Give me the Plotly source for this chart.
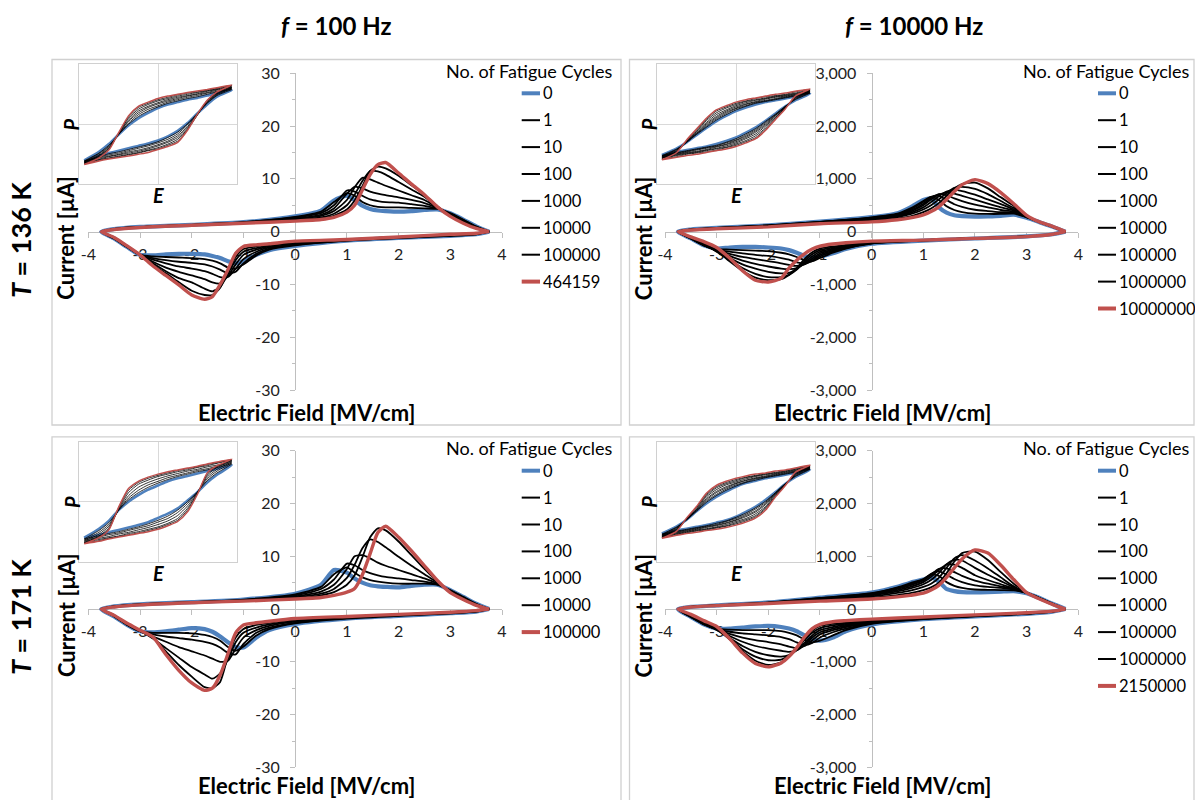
import plotly.graph_objects as go

W, H = 1195, 800
OFF = 0  # body margin is removed by the post script below
FONT = "Lato"
BLUE = "#4f81bd"
RED = "#c0504d"
BLACK = "#000000"
AXC = "#bfbfbf"

# ---------------- shared grids (electric field, MV/cm) ----------------
E_UP = [-3.75, -3.5, -3.0, -2.0, -1.0, 0.0, 0.5, 0.75, 1.0, 1.15, 1.3, 1.45, 1.6, 1.75,
        2.0, 2.25, 2.5, 2.75, 3.0, 3.25, 3.5, 3.75]
E_LO = [-3.75, -3.5, -3.25, -3.0, -2.75, -2.5, -2.25, -2.0, -1.75, -1.6, -1.45, -1.3, -1.15,
        -1.0, -0.75, -0.5, 0.0, 1.0, 2.0, 3.0, 3.5, 3.75]
E_INSET = [-3.75, -3.0, -2.5, -2.0, -1.5, -1.0, -0.5, 0.0, 0.5, 1.0, 1.5, 2.0, 2.5, 3.0, 3.75]

X_TICKS = [-4, -3, -2, -1, 0, 1, 2, 3, 4]
X_TICKTEXT = ["-4", "-3", "-2", "-1", "0", "1", "2", "3", "4"]
Y_TICKS_100 = [-30, -20, -10, 0, 10, 20, 30]
Y_TICKTEXT_100 = ["-30", "-20", "-10", "0", "10", "20", "30"]
Y_TICKS_10K = [-3000, -2000, -1000, 0, 1000, 2000, 3000]
Y_TICKTEXT_10K = ["-3,000", "-2,000", "-1,000", "0", "1,000", "2,000", "3,000"]

# ---------------- Panel A: T = 136 K, f = 100 Hz (current in uA) ----------------
A_CYCLES = ["0", "1", "10", "100", "1000", "10000", "100000", "464159"]
A_UP = [
    [0, 0.5, 0.9, 1.3, 1.8, 2.9, 4.0, 5.9, 6.8, 6.0, 4.9, 4.3, 4.0, 3.9, 3.8, 3.9, 4.1, 4.2, 3.5, 2.3, 1.0, 0],
    [0, 0.5, 0.9, 1.3, 1.8, 2.8, 3.8, 5.6, 7.3, 6.8, 5.6, 5.0, 4.7, 4.6, 4.6, 4.5, 4.4, 4.3, 3.5, 2.3, 1.0, 0],
    [0, 0.5, 0.9, 1.3, 1.8, 2.7, 3.5, 5.0, 7.8, 7.6, 6.8, 6.1, 5.8, 5.6, 5.5, 5.2, 4.9, 4.4, 3.4, 2.2, 0.9, 0],
    [0, 0.5, 0.9, 1.3, 1.7, 2.5, 3.2, 4.4, 7.2, 8.5, 8.2, 7.6, 7.2, 6.9, 6.5, 6.0, 5.4, 4.5, 3.3, 2.1, 0.9, 0],
    [0, 0.5, 0.9, 1.3, 1.7, 2.4, 3.0, 3.9, 6.0, 8.4, 10.2, 9.9, 9.3, 8.7, 7.8, 6.9, 6.0, 4.6, 3.2, 2.0, 0.8, 0],
    [0, 0.4, 0.85, 1.25, 1.65, 2.2, 2.7, 3.4, 5.0, 7.0, 9.6, 11.5, 11.4, 10.8, 9.4, 8.0, 6.6, 4.7, 3.1, 1.8, 0.7, 0],
    [0, 0.4, 0.8, 1.2, 1.6, 2.1, 2.5, 3.0, 4.2, 5.9, 8.6, 11.5, 12.3, 12.0, 10.6, 8.8, 7.0, 4.8, 3.0, 1.7, 0.6, 0],
    [0, 0.4, 0.8, 1.2, 1.6, 2.0, 2.3, 2.7, 3.7, 5.0, 7.9, 10.8, 12.7, 13.1, 11.1, 9.0, 7.0, 4.7, 2.9, 1.6, 0.6, 0],
]
A_LO = [
    [0, -1.3, -2.9, -4.4, -4.5, -4.3, -4.2, -4.2, -4.3, -4.6, -5.0, -5.6, -6.0, -5.6, -4.4, -3.5, -2.7, -1.7, -1.2, -0.8, -0.5, 0],
    [0, -1.3, -2.9, -4.4, -4.7, -4.8, -4.9, -5.0, -5.2, -5.5, -6.0, -6.8, -7.0, -6.2, -4.5, -3.4, -2.6, -1.7, -1.2, -0.8, -0.5, 0],
    [0, -1.3, -2.9, -4.4, -5.0, -5.4, -5.7, -5.9, -6.2, -6.6, -7.2, -7.9, -7.6, -6.0, -4.2, -3.2, -2.5, -1.7, -1.2, -0.8, -0.5, 0],
    [0, -1.3, -2.8, -4.4, -5.3, -6.0, -6.6, -7.0, -7.5, -8.0, -8.6, -8.6, -7.0, -5.2, -3.8, -3.0, -2.4, -1.6, -1.1, -0.7, -0.4, 0],
    [0, -1.2, -2.8, -4.4, -5.7, -6.8, -7.6, -8.3, -9.0, -9.6, -9.8, -8.4, -6.2, -4.4, -3.4, -2.8, -2.2, -1.6, -1.1, -0.7, -0.4, 0],
    [0, -1.2, -2.7, -4.4, -6.0, -7.5, -8.8, -9.6, -10.8, -11.3, -10.5, -8.0, -5.4, -3.8, -3.1, -2.6, -2.0, -1.5, -1.0, -0.6, -0.3, 0],
    [0, -1.1, -2.7, -4.4, -6.3, -7.9, -9.6, -11.2, -12.0, -12.0, -10.6, -7.5, -4.8, -3.3, -2.8, -2.4, -1.9, -1.5, -1.0, -0.5, -0.3, 0],
    [0, -1.1, -2.7, -4.4, -6.5, -8.3, -10.1, -12.0, -12.8, -12.3, -10.0, -7.2, -4.1, -2.8, -2.5, -2.3, -1.8, -1.5, -1.0, -0.5, -0.3, 0],
]
A_P_UP = [
    [-0.60, -0.46, -0.33, -0.17, -0.02, 0.10, 0.19, 0.27, 0.33, 0.37, 0.41, 0.44, 0.48, 0.52, 0.57],
    [-0.61, -0.48, -0.35, -0.17, 0.00, 0.13, 0.22, 0.29, 0.35, 0.39, 0.43, 0.46, 0.50, 0.54, 0.58],
    [-0.62, -0.49, -0.37, -0.17, 0.02, 0.16, 0.25, 0.31, 0.37, 0.41, 0.45, 0.48, 0.52, 0.55, 0.60],
    [-0.63, -0.51, -0.38, -0.16, 0.05, 0.19, 0.28, 0.34, 0.39, 0.43, 0.47, 0.50, 0.53, 0.57, 0.61],
    [-0.64, -0.52, -0.40, -0.16, 0.07, 0.22, 0.30, 0.36, 0.41, 0.45, 0.48, 0.51, 0.55, 0.58, 0.62],
    [-0.65, -0.53, -0.41, -0.15, 0.10, 0.25, 0.33, 0.39, 0.43, 0.47, 0.50, 0.53, 0.56, 0.59, 0.64],
    [-0.66, -0.55, -0.42, -0.15, 0.12, 0.28, 0.35, 0.41, 0.45, 0.49, 0.52, 0.54, 0.57, 0.60, 0.65],
    [-0.67, -0.56, -0.43, -0.14, 0.14, 0.30, 0.37, 0.43, 0.47, 0.50, 0.53, 0.555, 0.58, 0.61, 0.655],
]
A_P_LO = [
    [-0.60, -0.52, -0.48, -0.44, -0.40, -0.36, -0.32, -0.27, -0.20, -0.11, 0.02, 0.18, 0.33, 0.46, 0.57],
    [-0.61, -0.54, -0.49, -0.46, -0.42, -0.38, -0.34, -0.29, -0.22, -0.13, 0.01, 0.18, 0.35, 0.48, 0.58],
    [-0.62, -0.55, -0.51, -0.48, -0.44, -0.40, -0.36, -0.31, -0.25, -0.16, -0.01, 0.17, 0.36, 0.49, 0.60],
    [-0.63, -0.56, -0.53, -0.50, -0.46, -0.43, -0.39, -0.34, -0.28, -0.19, -0.04, 0.17, 0.37, 0.50, 0.61],
    [-0.64, -0.58, -0.54, -0.51, -0.48, -0.45, -0.41, -0.36, -0.30, -0.22, -0.06, 0.16, 0.38, 0.51, 0.62],
    [-0.65, -0.59, -0.56, -0.53, -0.50, -0.47, -0.43, -0.39, -0.33, -0.25, -0.08, 0.16, 0.39, 0.52, 0.64],
    [-0.66, -0.60, -0.57, -0.54, -0.51, -0.48, -0.44, -0.41, -0.35, -0.28, -0.09, 0.15, 0.40, 0.53, 0.65],
    [-0.67, -0.61, -0.58, -0.555, -0.53, -0.50, -0.47, -0.42, -0.37, -0.30, -0.10, 0.17, 0.40, 0.54, 0.655],
]

# ---------------- Panel B: T = 136 K, f = 10000 Hz ----------------
B_CYCLES = ["0", "1", "10", "100", "1000", "10000", "100000", "1000000", "10000000"]
B_UP = [
    [0, 40, 70, 120, 190, 275, 350, 460, 600, 630, 460, 360, 310, 295, 285, 290, 300, 320, 265, 180, 95, 0],
    [0, 40, 70, 120, 185, 270, 340, 440, 580, 660, 600, 480, 410, 370, 340, 335, 335, 340, 270, 180, 95, 0],
    [0, 40, 70, 120, 185, 265, 330, 420, 560, 660, 680, 600, 520, 470, 415, 390, 370, 360, 275, 180, 95, 0],
    [0, 40, 70, 115, 180, 255, 320, 400, 530, 640, 710, 690, 630, 580, 510, 460, 410, 380, 280, 180, 95, 0],
    [0, 40, 65, 115, 175, 245, 305, 380, 500, 610, 700, 740, 720, 680, 605, 530, 460, 400, 285, 180, 95, 0],
    [0, 35, 65, 110, 170, 235, 290, 355, 460, 560, 670, 760, 790, 770, 700, 610, 520, 420, 290, 180, 95, 0],
    [0, 35, 60, 105, 165, 220, 275, 330, 420, 500, 610, 730, 830, 850, 810, 710, 580, 450, 295, 180, 95, 0],
    [0, 30, 60, 100, 160, 205, 250, 290, 370, 440, 540, 680, 820, 900, 930, 820, 650, 490, 300, 185, 95, 0],
    [0, 30, 55, 90, 150, 185, 225, 260, 318, 380, 470, 610, 760, 890, 985, 910, 740, 530, 310, 185, 100, 0],
]
B_LO = [
    [0, -130, -260, -320, -300, -290, -290, -300, -320, -350, -400, -460, -490, -470, -410, -330, -230, -170, -130, -90, -50, 0],
    [0, -130, -260, -330, -340, -350, -360, -370, -400, -430, -480, -540, -560, -500, -400, -320, -225, -170, -130, -90, -50, 0],
    [0, -130, -260, -340, -380, -410, -440, -460, -500, -530, -580, -600, -560, -470, -380, -310, -220, -165, -130, -90, -50, 0],
    [0, -130, -255, -350, -420, -480, -520, -560, -600, -630, -650, -620, -540, -440, -360, -300, -215, -165, -125, -90, -50, 0],
    [0, -125, -255, -360, -460, -550, -610, -660, -700, -710, -690, -610, -510, -410, -340, -290, -210, -160, -125, -90, -50, 0],
    [0, -125, -250, -370, -500, -620, -700, -760, -790, -780, -710, -590, -470, -380, -320, -280, -205, -160, -125, -90, -50, 0],
    [0, -120, -240, -380, -540, -690, -800, -860, -860, -820, -720, -560, -430, -350, -300, -265, -200, -160, -125, -90, -50, 0],
    [0, -115, -220, -360, -560, -740, -870, -920, -900, -820, -690, -520, -390, -320, -280, -250, -190, -160, -125, -90, -50, 0],
    [0, -100, -190, -300, -500, -740, -920, -955, -880, -690, -540, -420, -330, -275, -235, -210, -180, -160, -127, -95, -50, 0],
]
B_P_UP = [
    [-0.51, -0.40, -0.30, -0.18, -0.06, 0.05, 0.14, 0.22, 0.28, 0.33, 0.37, 0.40, 0.43, 0.46, 0.51],
    [-0.52, -0.41, -0.30, -0.17, -0.05, 0.07, 0.16, 0.24, 0.30, 0.35, 0.38, 0.41, 0.44, 0.47, 0.52],
    [-0.53, -0.42, -0.30, -0.16, -0.03, 0.09, 0.18, 0.26, 0.31, 0.36, 0.39, 0.42, 0.45, 0.48, 0.53],
    [-0.54, -0.43, -0.29, -0.15, -0.01, 0.11, 0.20, 0.27, 0.33, 0.37, 0.40, 0.43, 0.46, 0.49, 0.54],
    [-0.55, -0.44, -0.29, -0.14, 0.01, 0.13, 0.22, 0.29, 0.34, 0.38, 0.42, 0.45, 0.47, 0.50, 0.55],
    [-0.56, -0.45, -0.28, -0.12, 0.03, 0.16, 0.24, 0.31, 0.36, 0.40, 0.43, 0.46, 0.48, 0.51, 0.56],
    [-0.57, -0.46, -0.28, -0.11, 0.06, 0.19, 0.27, 0.33, 0.38, 0.41, 0.44, 0.47, 0.49, 0.52, 0.57],
    [-0.58, -0.46, -0.27, -0.09, 0.08, 0.22, 0.29, 0.35, 0.39, 0.43, 0.46, 0.48, 0.50, 0.54, 0.58],
    [-0.59, -0.47, -0.26, -0.08, 0.10, 0.24, 0.31, 0.37, 0.41, 0.44, 0.47, 0.50, 0.52, 0.55, 0.59],
]
B_P_LO = [
    [-0.51, -0.46, -0.43, -0.40, -0.37, -0.33, -0.28, -0.22, -0.14, -0.05, 0.06, 0.18, 0.30, 0.40, 0.51],
    [-0.52, -0.47, -0.44, -0.41, -0.38, -0.35, -0.30, -0.24, -0.16, -0.07, 0.05, 0.17, 0.30, 0.41, 0.52],
    [-0.53, -0.48, -0.45, -0.42, -0.39, -0.36, -0.31, -0.26, -0.18, -0.09, 0.03, 0.16, 0.30, 0.42, 0.53],
    [-0.54, -0.49, -0.46, -0.43, -0.40, -0.37, -0.33, -0.27, -0.20, -0.11, 0.01, 0.15, 0.29, 0.43, 0.54],
    [-0.55, -0.50, -0.47, -0.45, -0.42, -0.38, -0.34, -0.29, -0.22, -0.13, -0.01, 0.14, 0.29, 0.44, 0.55],
    [-0.56, -0.51, -0.48, -0.46, -0.43, -0.40, -0.36, -0.31, -0.24, -0.16, -0.03, 0.12, 0.28, 0.45, 0.56],
    [-0.57, -0.52, -0.49, -0.47, -0.44, -0.41, -0.38, -0.33, -0.27, -0.19, -0.06, 0.11, 0.28, 0.46, 0.57],
    [-0.58, -0.54, -0.50, -0.48, -0.46, -0.43, -0.39, -0.35, -0.29, -0.22, -0.08, 0.09, 0.27, 0.46, 0.58],
    [-0.59, -0.55, -0.52, -0.50, -0.47, -0.44, -0.41, -0.37, -0.31, -0.24, -0.10, 0.08, 0.26, 0.47, 0.59],
]

# ---------------- Panel C: T = 171 K, f = 100 Hz ----------------
C_CYCLES = ["0", "1", "10", "100", "1000", "10000", "100000"]
C_UP = [
    [0, 0.5, 0.9, 1.3, 1.8, 2.9, 4.6, 7.4, 6.9, 5.8, 5.0, 4.5, 4.3, 4.2, 4.1, 4.4, 4.6, 4.6, 3.6, 2.3, 1.0, 0],
    [0, 0.5, 0.9, 1.3, 1.8, 2.8, 4.2, 6.6, 7.9, 6.9, 6.0, 5.5, 5.2, 5.0, 4.8, 4.8, 4.8, 4.6, 3.6, 2.3, 1.0, 0],
    [0, 0.5, 0.9, 1.3, 1.7, 2.6, 3.8, 5.6, 8.6, 8.3, 7.4, 6.8, 6.4, 6.1, 5.8, 5.5, 5.2, 4.7, 3.5, 2.2, 0.9, 0],
    [0, 0.5, 0.9, 1.3, 1.7, 2.4, 3.3, 4.6, 7.6, 10.0, 10.2, 9.6, 8.8, 8.2, 7.4, 6.6, 5.8, 4.8, 3.4, 2.1, 0.9, 0],
    [0, 0.4, 0.85, 1.25, 1.6, 2.2, 2.9, 3.8, 5.9, 8.4, 11.5, 13.2, 12.7, 11.7, 9.9, 8.2, 6.6, 5.0, 3.3, 2.0, 0.8, 0],
    [0, 0.4, 0.8, 1.2, 1.6, 2.0, 2.6, 3.2, 4.6, 6.4, 9.8, 13.6, 15.3, 14.9, 12.8, 10.2, 7.6, 5.2, 3.2, 1.9, 0.7, 0],
    [0, 0.4, 0.8, 1.2, 1.5, 1.9, 2.2, 2.6, 3.2, 3.9, 6.5, 10.5, 14.5, 15.7, 13.6, 11.0, 8.2, 5.4, 3.1, 1.8, 0.7, 0],
]
C_LO = [
    [0, -1.4, -3.0, -4.2, -4.4, -4.2, -3.9, -3.6, -3.8, -4.3, -5.2, -6.3, -7.2, -7.3, -5.4, -4.0, -2.8, -1.8, -1.3, -0.8, -0.5, 0],
    [0, -1.4, -3.0, -4.2, -4.5, -4.5, -4.5, -4.6, -4.9, -5.3, -6.0, -7.2, -7.9, -7.1, -5.0, -3.8, -2.7, -1.8, -1.3, -0.8, -0.5, 0],
    [0, -1.3, -2.9, -4.2, -4.8, -5.2, -5.5, -5.8, -6.2, -6.6, -7.3, -8.3, -8.6, -6.6, -4.5, -3.5, -2.6, -1.7, -1.2, -0.8, -0.5, 0],
    [0, -1.3, -2.9, -4.2, -5.2, -6.2, -7.2, -8.0, -8.8, -9.4, -10.0, -9.8, -7.5, -5.4, -4.0, -3.2, -2.4, -1.6, -1.2, -0.7, -0.4, 0],
    [0, -1.3, -2.8, -4.1, -5.6, -7.4, -9.2, -11.0, -12.4, -13.2, -12.2, -9.6, -6.3, -4.5, -3.5, -2.9, -2.2, -1.6, -1.1, -0.7, -0.4, 0],
    [0, -1.2, -2.8, -4.1, -5.5, -8.0, -10.6, -12.8, -14.8, -15.0, -13.8, -9.0, -5.4, -3.8, -3.0, -2.6, -2.0, -1.5, -1.0, -0.6, -0.3, 0],
    [0, -1.2, -2.7, -4.0, -5.3, -8.6, -11.6, -14.0, -15.4, -15.0, -12.5, -8.5, -4.5, -3.0, -2.6, -2.3, -1.8, -1.4, -1.0, -0.6, -0.3, 0],
]
C_P_UP = [
    [-0.60, -0.45, -0.32, -0.14, 0.00, 0.11, 0.20, 0.27, 0.34, 0.39, 0.43, 0.47, 0.51, 0.55, 0.61],
    [-0.62, -0.48, -0.35, -0.14, 0.03, 0.15, 0.24, 0.31, 0.37, 0.42, 0.46, 0.50, 0.53, 0.57, 0.63],
    [-0.64, -0.51, -0.38, -0.14, 0.06, 0.19, 0.28, 0.34, 0.40, 0.44, 0.48, 0.52, 0.55, 0.59, 0.65],
    [-0.66, -0.54, -0.41, -0.13, 0.10, 0.24, 0.32, 0.38, 0.43, 0.47, 0.51, 0.54, 0.58, 0.61, 0.67],
    [-0.68, -0.57, -0.44, -0.12, 0.15, 0.29, 0.36, 0.42, 0.46, 0.50, 0.53, 0.57, 0.60, 0.64, 0.69],
    [-0.69, -0.59, -0.46, -0.10, 0.19, 0.32, 0.39, 0.44, 0.48, 0.52, 0.55, 0.58, 0.62, 0.65, 0.70],
    [-0.70, -0.60, -0.47, -0.09, 0.22, 0.34, 0.41, 0.46, 0.50, 0.53, 0.56, 0.59, 0.63, 0.66, 0.71],
]
C_P_LO = [
    [-0.60, -0.55, -0.51, -0.47, -0.43, -0.39, -0.34, -0.27, -0.20, -0.11, 0.02, 0.16, 0.32, 0.45, 0.61],
    [-0.62, -0.57, -0.53, -0.50, -0.46, -0.42, -0.37, -0.31, -0.24, -0.14, 0.00, 0.16, 0.35, 0.48, 0.63],
    [-0.64, -0.59, -0.55, -0.52, -0.48, -0.44, -0.40, -0.34, -0.28, -0.18, -0.03, 0.16, 0.38, 0.51, 0.65],
    [-0.66, -0.61, -0.58, -0.54, -0.51, -0.47, -0.43, -0.38, -0.32, -0.23, -0.07, 0.15, 0.41, 0.54, 0.67],
    [-0.68, -0.63, -0.60, -0.57, -0.53, -0.50, -0.46, -0.42, -0.36, -0.28, -0.11, 0.14, 0.44, 0.57, 0.69],
    [-0.69, -0.65, -0.61, -0.58, -0.55, -0.52, -0.48, -0.44, -0.38, -0.31, -0.14, 0.13, 0.46, 0.59, 0.70],
    [-0.70, -0.66, -0.62, -0.59, -0.56, -0.53, -0.50, -0.46, -0.40, -0.33, -0.17, 0.12, 0.48, 0.60, 0.71],
]

# ---------------- Panel D: T = 171 K, f = 10000 Hz ----------------
D_CYCLES = ["0", "1", "10", "100", "1000", "10000", "100000", "1000000", "2150000"]
D_UP = [
    [0, 40, 70, 125, 215, 310, 420, 500, 560, 600, 520, 380, 340, 320, 315, 320, 330, 340, 300, 210, 100, 0],
    [0, 40, 70, 125, 210, 300, 410, 490, 570, 650, 630, 510, 440, 400, 370, 365, 360, 355, 305, 210, 100, 0],
    [0, 40, 70, 120, 205, 295, 400, 470, 560, 670, 720, 650, 570, 510, 450, 420, 400, 370, 305, 210, 100, 0],
    [0, 40, 70, 120, 195, 285, 380, 450, 540, 650, 760, 770, 700, 630, 540, 480, 430, 380, 305, 210, 100, 0],
    [0, 40, 70, 115, 185, 275, 360, 420, 510, 610, 740, 840, 840, 780, 640, 550, 470, 390, 305, 205, 100, 0],
    [0, 40, 65, 110, 175, 260, 335, 390, 470, 550, 680, 850, 930, 920, 780, 650, 530, 410, 310, 205, 95, 0],
    [0, 40, 65, 110, 165, 240, 305, 350, 420, 480, 590, 780, 960, 1020, 920, 770, 600, 430, 310, 200, 95, 0],
    [0, 40, 65, 105, 160, 215, 265, 300, 360, 410, 500, 680, 900, 1060, 1090, 930, 700, 480, 315, 195, 90, 0],
    [0, 40, 65, 105, 150, 190, 230, 260, 300, 360, 450, 600, 780, 950, 1120, 1060, 830, 560, 310, 190, 90, 0],
]
D_LO = [
    [0, -150, -290, -370, -370, -350, -330, -320, -340, -370, -420, -500, -570, -600, -540, -420, -290, -190, -140, -90, -50, 0],
    [0, -150, -290, -370, -390, -400, -400, -400, -420, -450, -500, -580, -630, -600, -500, -400, -280, -190, -140, -90, -50, 0],
    [0, -150, -285, -380, -430, -460, -480, -500, -530, -570, -630, -680, -640, -540, -440, -370, -270, -185, -135, -90, -50, 0],
    [0, -145, -280, -385, -470, -540, -590, -625, -670, -710, -740, -700, -590, -480, -400, -340, -260, -180, -130, -85, -45, 0],
    [0, -140, -275, -390, -510, -620, -700, -750, -790, -810, -780, -680, -540, -440, -370, -320, -250, -175, -125, -85, -45, 0],
    [0, -135, -270, -395, -550, -700, -810, -875, -900, -870, -780, -640, -500, -400, -340, -300, -240, -170, -120, -80, -45, 0],
    [0, -125, -260, -380, -570, -760, -900, -970, -960, -880, -750, -590, -450, -360, -310, -280, -225, -165, -120, -80, -45, 0],
    [0, -115, -240, -360, -570, -800, -980, -1060, -1010, -900, -740, -560, -410, -320, -280, -260, -210, -160, -115, -75, -40, 0],
    [0, -100, -220, -330, -560, -830, -1030, -1095, -1020, -900, -730, -530, -370, -290, -240, -220, -190, -150, -110, -70, -40, 0],
]
D_P_UP = [
    [-0.53, -0.41, -0.30, -0.16, -0.03, 0.08, 0.17, 0.25, 0.31, 0.35, 0.39, 0.42, 0.45, 0.48, 0.53],
    [-0.54, -0.42, -0.30, -0.16, -0.01, 0.10, 0.19, 0.26, 0.32, 0.36, 0.40, 0.43, 0.46, 0.49, 0.54],
    [-0.55, -0.43, -0.30, -0.15, 0.01, 0.12, 0.21, 0.28, 0.33, 0.38, 0.41, 0.44, 0.47, 0.50, 0.55],
    [-0.56, -0.44, -0.30, -0.14, 0.03, 0.15, 0.23, 0.30, 0.35, 0.39, 0.42, 0.45, 0.48, 0.51, 0.56],
    [-0.57, -0.45, -0.29, -0.13, 0.05, 0.17, 0.25, 0.31, 0.36, 0.40, 0.43, 0.46, 0.49, 0.52, 0.57],
    [-0.58, -0.46, -0.29, -0.12, 0.08, 0.20, 0.28, 0.33, 0.38, 0.42, 0.45, 0.47, 0.50, 0.53, 0.58],
    [-0.59, -0.47, -0.28, -0.10, 0.10, 0.23, 0.30, 0.35, 0.40, 0.43, 0.46, 0.48, 0.51, 0.54, 0.59],
    [-0.60, -0.48, -0.28, -0.09, 0.12, 0.25, 0.32, 0.37, 0.41, 0.44, 0.47, 0.49, 0.52, 0.55, 0.60],
    [-0.61, -0.49, -0.27, -0.08, 0.14, 0.27, 0.34, 0.39, 0.43, 0.46, 0.48, 0.51, 0.53, 0.56, 0.61],
]
D_P_LO = [
    [-0.53, -0.48, -0.45, -0.42, -0.39, -0.35, -0.31, -0.25, -0.17, -0.08, 0.03, 0.16, 0.30, 0.41, 0.53],
    [-0.54, -0.49, -0.46, -0.43, -0.40, -0.36, -0.32, -0.26, -0.19, -0.10, 0.01, 0.15, 0.30, 0.42, 0.54],
    [-0.55, -0.50, -0.47, -0.44, -0.41, -0.38, -0.33, -0.28, -0.21, -0.12, -0.01, 0.15, 0.30, 0.43, 0.55],
    [-0.56, -0.51, -0.48, -0.45, -0.42, -0.39, -0.35, -0.30, -0.23, -0.15, -0.03, 0.14, 0.30, 0.44, 0.56],
    [-0.57, -0.52, -0.49, -0.46, -0.43, -0.40, -0.36, -0.31, -0.25, -0.17, -0.05, 0.13, 0.29, 0.45, 0.57],
    [-0.58, -0.53, -0.50, -0.47, -0.45, -0.42, -0.38, -0.33, -0.28, -0.20, -0.08, 0.12, 0.29, 0.46, 0.58],
    [-0.59, -0.54, -0.51, -0.48, -0.46, -0.43, -0.40, -0.35, -0.30, -0.23, -0.10, 0.10, 0.28, 0.47, 0.59],
    [-0.60, -0.55, -0.52, -0.49, -0.47, -0.44, -0.41, -0.37, -0.32, -0.25, -0.12, 0.09, 0.28, 0.48, 0.60],
    [-0.61, -0.56, -0.53, -0.51, -0.48, -0.46, -0.43, -0.39, -0.34, -0.27, -0.14, 0.08, 0.27, 0.49, 0.61],
]

COL_TITLES = ["<b><i>f</i> = 100 Hz</b>", "<b><i>f</i> = 10000 Hz</b>"]
ROW_TITLES = ["<b><i>T</i> = 136 K</b>", "<b><i>T</i> = 171 K</b>"]
LEGEND_TITLE = "No. of Fatigue Cycles"
X_TITLE = "<b>Electric Field [MV/cm]</b>"
Y_TITLE = "<b>Current [µA]</b>"

# ---------------- layout geometry (screen pixels) ----------------
def fx(p):
    return (p - OFF) / W


def fy(p):
    return 1 - (p - OFF) / H


ROW_DY = 377.4
PANELS = [
    dict(up=A_UP, lo=A_LO, pup=A_P_UP, plo=A_P_LO, cyc=A_CYCLES, main=(88.3, 502, 73.3, 390),
         inset=(79.3, 236.7, 64.3, 184.3), frame=(52, 59.5, 621, 425), leg=(521.7, 540, 615),
         dy=0, xt=412, ytk=(Y_TICKS_100, Y_TICKTEXT_100, 30, 5)),
    dict(up=B_UP, lo=B_LO, pup=B_P_UP, plo=B_P_LO, cyc=B_CYCLES, main=(665, 1078.3, 73.3, 390),
         inset=(657, 815, 64.3, 184.3), frame=(629.5, 59.5, 1194, 425), leg=(1098, 1116, 1192),
         dy=0, xt=412, ytk=(Y_TICKS_10K, Y_TICKTEXT_10K, 3000, 500)),
    dict(up=C_UP, lo=C_LO, pup=C_P_UP, plo=C_P_LO, cyc=C_CYCLES, main=(88.3, 502, 73.3, 390),
         inset=(79.3, 236.7, 64.3, 184.3), frame=(52, 59.5, 621, 430), leg=(521.7, 540, 615),
         dy=ROW_DY, xt=408.5, ytk=(Y_TICKS_100, Y_TICKTEXT_100, 30, 5)),
    dict(up=D_UP, lo=D_LO, pup=D_P_UP, plo=D_P_LO, cyc=D_CYCLES, main=(665, 1078.3, 73.3, 390),
         inset=(657, 815, 64.3, 184.3), frame=(629.5, 59.5, 1194, 430), leg=(1098, 1116, 1192),
         dy=ROW_DY, xt=408.5, ytk=(Y_TICKS_10K, Y_TICKTEXT_10K, 3000, 500)),
]

fig = go.Figure()
layout = {}
annotations = []
shapes = []


def ann(text, x, y, size, angle=0, xanchor="center", color="#000000"):
    annotations.append(dict(text=text, x=fx(x), y=fy(y), xref="paper", yref="paper",
                            showarrow=False, xanchor=xanchor, yanchor="middle",
                            textangle=angle, font=dict(family=FONT, size=size, color=color)))


def color_of(i, n):
    if i == 0:
        return BLUE
    if i == n - 1:
        return RED
    return BLACK


for k, p in enumerate(PANELS):
    mi = k + 1
    ii = k + 5
    dy = p["dy"]
    n = len(p["cyc"])
    x0, x1, yt, yb = p["main"]
    yt += dy
    yb += dy
    ymax = p["ytk"][2]

    for i in range(n):
        c = color_of(i, n)
        w = 4.2 if i == 0 else (3.4 if i == n - 1 else 1.8)
        fig.add_trace(go.Scatter(
            x=E_UP + E_LO[::-1], y=p["up"][i] + p["lo"][i][::-1],
            mode="lines", line=dict(color=c, width=w, shape="spline", smoothing=0.6),
            xaxis="x%d" % mi, yaxis="y%d" % mi, showlegend=False, hoverinfo="skip"))
        wi = 2.6 if i == 0 else (1.5 if i == n - 1 else 0.8)
        fig.add_trace(go.Scatter(
            x=E_INSET[::-1] + E_INSET, y=p["pup"][i][::-1] + p["plo"][i],
            mode="lines", line=dict(color=c, width=wi, shape="spline", smoothing=0.6),
            xaxis="x%d" % ii, yaxis="y%d" % ii, showlegend=False, hoverinfo="skip"))

    xk = "xaxis" if mi == 1 else "xaxis%d" % mi
    yk = "yaxis" if mi == 1 else "yaxis%d" % mi
    layout[xk] = dict(domain=[fx(x0), fx(x1)], range=[-4, 4], anchor="free",
                      position=fy((yt + yb) / 2), tickvals=X_TICKS, ticktext=X_TICKTEXT,
                      showline=True, linecolor=AXC, linewidth=1.2, ticks="outside",
                      tickcolor=AXC, ticklen=5, showgrid=False, zeroline=False,
                      tickfont=dict(family=FONT, size=16, color="#222222"),
                      ticklabelstandoff=3, layer="below traces", fixedrange=True,
                      automargin=False)
    layout[yk] = dict(domain=[fy(yb), fy(yt)], range=[-ymax, ymax], anchor="free",
                      position=fx((x0 + x1) / 2), tickvals=p["ytk"][0], ticktext=p["ytk"][1],
                      showline=True, linecolor=AXC, linewidth=1.2, ticks="outside",
                      tickcolor=AXC, ticklen=5, showgrid=False, zeroline=False,
                      minor=dict(dtick=p["ytk"][3], tick0=0, ticks="outside", ticklen=3, tickcolor=AXC),
                      tickfont=dict(family=FONT, size=16, color="#222222"),
                      ticklabelstandoff=7, layer="below traces", fixedrange=True,
                      automargin=False)

    ix0, ix1, iyt, iyb = p["inset"]
    iyt += dy
    iyb += dy
    layout["xaxis%d" % ii] = dict(domain=[fx(ix0), fx(ix1)], range=[-4, 4], anchor="y%d" % ii,
                                 tickvals=[0], showticklabels=False, showgrid=True,
                                 gridcolor="#d9d9d9", zeroline=False, showline=True, mirror=True,
                                 linecolor="#d0d0d0", ticks="", fixedrange=True, automargin=False)
    layout["yaxis%d" % ii] = dict(domain=[fy(iyb), fy(iyt)], range=[-1, 1], anchor="x%d" % ii,
                                 tickvals=[0], showticklabels=False, showgrid=True,
                                 gridcolor="#d9d9d9", zeroline=False, showline=True, mirror=True,
                                 linecolor="#d0d0d0", ticks="", fixedrange=True, automargin=False)
    icx = (ix0 + ix1) / 2
    ann("<b><i>P</i></b>", ix0 - 8, (iyt + iyb) / 2, 20, angle=-90)
    ann("<b><i>E</i></b>", icx, iyb + 11, 20)

    fx0, fy0, fx1, fy1 = p["frame"]
    shapes.append(dict(type="rect", xref="paper", yref="paper", x0=fx(fx0), x1=fx(fx1),
                       y0=fy(fy1 + dy), y1=fy(fy0 + dy), line=dict(color="#d0d0d0", width=1.3),
                       fillcolor="rgba(0,0,0,0)", layer="below"))

    ann(Y_TITLE, fx0 + 14, (yt + yb) / 2 + 6, 22, angle=-90)
    ann(X_TITLE, (x0 + x1) / 2 + 11, p["xt"] + dy, 22)

    l0, l1, lr = p["leg"]
    ann(LEGEND_TITLE, lr, 71 + dy, 18, xanchor="right")
    for i, lab in enumerate(p["cyc"]):
        yy = 93.3 + 26.9 * i + dy
        c = color_of(i, n)
        lw = 4 if (i == 0 or i == n - 1) else 2
        shapes.append(dict(type="line", xref="paper", yref="paper", x0=fx(l0), x1=fx(l1),
                           y0=fy(yy), y1=fy(yy), line=dict(color=c, width=lw)))
        ann(lab, l1 + 1, yy, 16.5, xanchor="left")

ann(COL_TITLES[0], 336, 25, 24)
ann(COL_TITLES[1], 914, 25, 24)
ann(ROW_TITLES[0], 20, 240, 27, angle=-90)
ann(ROW_TITLES[1], 20, 617, 27, angle=-90)

fig.update_layout(
    width=W, height=H, margin=dict(l=0, r=0, t=0, b=0, pad=0, autoexpand=False),
    paper_bgcolor="white", plot_bgcolor="rgba(0,0,0,0)",
    font=dict(family=FONT, color="#000000"),
    annotations=annotations, shapes=shapes, showlegend=False,
    **layout,
)

fig.write_html(
    "out.html",
    config={"displayModeBar": False},
    post_script="document.body.style.margin='0';document.body.style.overflow='hidden';",
)
